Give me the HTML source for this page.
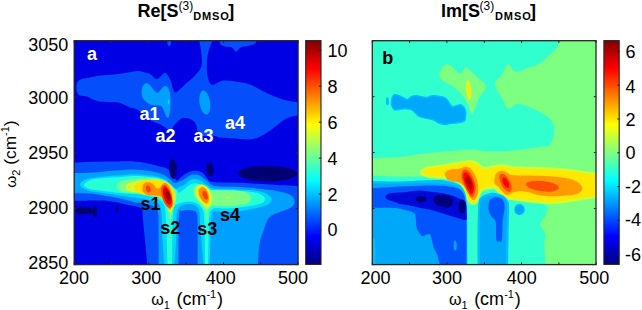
<!DOCTYPE html>
<html><head><meta charset="utf-8"><style>
html,body{margin:0;padding:0;background:#fff;width:642px;height:310px;overflow:hidden}
svg{display:block}
text{font-family:"Liberation Sans",sans-serif;fill:#000}
</style></head><body>
<svg width="642" height="310" viewBox="0 0 642 310">
<defs>
<clipPath id="ca"><rect x="74" y="40.5" width="224" height="224"/></clipPath>
<clipPath id="cb"><rect x="372" y="40.5" width="224" height="224"/></clipPath>
<linearGradient id="jet" x1="0" y1="1" x2="0" y2="0">
<stop offset="0" stop-color="#000080"/><stop offset="0.125" stop-color="#0000ff"/>
<stop offset="0.375" stop-color="#00ffff"/><stop offset="0.625" stop-color="#ffff00"/>
<stop offset="0.875" stop-color="#ff0000"/><stop offset="1" stop-color="#800000"/>
</linearGradient>
</defs>
<g clip-path="url(#ca)">
<rect x="70" y="36" width="232" height="232" fill="#0000e4"/>
<path d="M198.6,38.0C198.6,38.0 213.6,38.0 213.6,38.0C213.6,38.0 210.6,44.7 209.5,48.0C208.4,51.3 207.6,54.7 207.2,58.0C206.8,61.3 206.7,64.7 206.8,68.0C206.9,71.3 207.2,75.1 208.0,77.9C208.8,80.7 210.0,84.3 211.9,85.0C213.8,85.7 217.5,82.5 219.7,81.8C221.8,81.0 222.2,80.5 224.8,80.5C227.4,80.5 230.8,80.8 235.0,81.5C239.2,82.2 244.8,82.6 250.0,84.5C255.2,86.4 261.5,90.7 266.5,93.0C271.5,95.3 275.8,97.1 280.0,98.5C284.2,99.9 288.3,100.8 292.0,101.5C295.7,102.2 302.0,102.5 302.0,102.5C302.0,102.5 302.0,115.5 302.0,115.5C302.0,115.5 296.9,115.3 294.0,116.0C291.1,116.7 288.1,117.6 284.7,119.6C281.3,121.6 277.2,125.3 273.5,128.0C269.8,130.7 265.9,133.6 262.2,135.5C258.4,137.4 256.0,138.8 251.0,139.3C246.0,139.8 237.4,138.6 232.3,138.3C227.2,138.0 223.6,138.0 220.4,137.6C217.2,137.2 215.9,136.1 213.3,135.8C210.7,135.5 207.3,136.1 205.0,136.0C202.7,135.9 200.6,136.4 199.3,135.5C198.0,134.6 198.0,132.5 197.4,130.5C196.8,128.5 196.8,125.3 195.6,123.4C194.4,121.5 192.4,119.9 190.3,119.0C188.2,118.1 185.0,117.9 183.2,118.0C181.4,118.1 181.1,118.6 179.6,119.8C178.1,121.0 175.8,123.3 174.3,125.1C172.8,126.9 172.4,130.2 170.8,130.5C169.2,130.8 166.8,128.2 165.0,127.2C163.2,126.2 162.1,125.2 160.1,124.3C158.1,123.3 155.1,122.5 153.0,121.5C150.9,120.5 149.7,119.6 147.7,118.0C145.7,116.4 143.1,113.5 141.0,112.0C138.9,110.5 137.1,109.5 135.3,108.8C133.5,108.0 131.6,108.0 130.0,107.5C128.4,107.0 127.9,106.3 126.0,105.5C124.1,104.7 121.5,103.0 118.8,102.4C116.1,101.9 113.1,102.4 110.0,102.2C106.9,102.0 103.0,102.0 100.0,101.5C97.0,101.0 94.2,99.8 92.0,99.0C89.8,98.2 89.0,97.1 87.0,96.5C85.0,95.9 81.7,96.2 80.0,95.5C78.3,94.8 77.6,93.6 77.0,92.0C76.4,90.4 76.3,87.8 76.5,86.0C76.7,84.2 77.1,82.7 78.0,81.5C78.9,80.3 80.0,79.7 82.0,79.0C84.0,78.3 87.0,78.1 90.0,77.5C93.0,76.9 95.8,76.0 100.0,75.5C104.2,75.0 110.3,75.0 115.0,74.5C119.7,74.0 124.2,73.1 128.0,72.5C131.8,71.9 135.2,71.0 138.0,71.0C140.8,71.0 143.0,72.0 145.0,72.5C147.0,73.0 148.1,72.9 150.0,74.0C151.9,75.1 154.7,78.9 156.5,79.2C158.3,79.5 159.5,77.1 161.0,76.0C162.5,74.9 163.9,72.0 165.5,72.8C167.1,73.5 169.1,77.3 170.6,80.5C172.1,83.7 173.0,90.6 174.5,92.1C176.0,93.6 178.0,90.8 179.7,89.5C181.4,88.2 182.7,86.3 184.8,84.4C187.0,82.5 190.0,80.5 192.6,77.9C195.2,75.3 198.8,71.6 200.3,68.9C201.8,66.2 201.7,65.2 201.8,62.0C201.9,58.9 201.5,54.0 201.0,50.0C200.5,46.0 198.6,38.0 198.6,38.0Z" fill="#054efc"/>
<path d="M219.3,38.0C219.3,38.0 257.3,38.0 257.3,38.0C257.3,38.0 256.6,42.2 255.0,43.5C253.4,44.8 250.3,45.4 248.0,46.0C245.7,46.6 243.0,46.3 241.0,47.3C239.0,48.2 237.5,51.7 236.0,51.7C234.5,51.7 233.8,48.4 232.0,47.5C230.2,46.6 226.9,47.1 225.0,46.5C223.1,45.9 221.4,45.4 220.5,44.0C219.6,42.6 219.3,38.0 219.3,38.0Z" fill="#054efc"/>
<ellipse cx="169.2" cy="42" rx="1.8" ry="4" fill="#054efc"/>
<path d="M70.0,162.7C70.0,162.7 83.3,162.2 90.0,162.0C96.7,161.8 103.7,161.6 110.0,161.5C116.3,161.4 123.0,161.1 128.0,161.2C133.0,161.3 136.2,161.5 140.0,162.0C143.8,162.5 147.3,163.2 150.6,164.0C153.9,164.8 157.4,165.8 160.0,166.5C162.6,167.2 164.2,167.1 166.0,168.0C167.8,168.9 169.5,170.3 171.0,172.0C172.5,173.7 174.0,176.6 175.0,178.0C176.0,179.4 175.5,181.0 177.0,180.5C178.5,180.0 181.5,176.4 184.0,174.8C186.5,173.2 189.2,171.5 191.8,170.9C194.4,170.3 197.5,171.0 199.5,171.5C201.5,172.0 202.8,172.9 204.0,174.0C205.2,175.1 205.5,176.7 207.0,178.0C208.5,179.3 207.5,181.2 213.0,182.0C218.5,182.8 230.5,182.4 240.0,182.8C249.5,183.2 259.7,183.9 270.0,184.5C280.3,185.1 302.0,186.5 302.0,186.5C302.0,186.5 302.0,268.0 302.0,268.0C302.0,268.0 147.5,268.0 147.5,268.0C147.5,268.0 145.8,248.0 145.0,240.0C144.2,232.0 143.5,225.0 143.0,220.0C142.5,215.0 143.0,212.2 142.0,210.0C141.0,207.8 139.3,207.6 137.0,206.8C134.7,206.0 131.7,205.8 128.0,205.0C124.3,204.2 119.7,202.8 115.0,202.0C110.3,201.2 107.5,200.7 100.0,200.5C92.5,200.3 70.0,201.0 70.0,201.0C70.0,201.0 70.0,162.7 70.0,162.7Z" fill="#054efc"/>
<path d="M143.0,98.5C141.9,96.8 141.9,94.8 141.7,93.0C141.5,91.2 141.6,89.4 142.0,88.0C142.4,86.6 143.2,85.3 144.0,84.5C144.8,83.7 146.0,83.1 147.0,83.3C148.0,83.5 149.0,84.3 150.2,85.5C151.4,86.7 153.2,89.3 154.4,90.5C155.6,91.7 156.2,93.0 157.3,92.9C158.4,92.8 159.7,90.8 160.8,89.8C161.9,88.8 162.8,87.1 163.8,86.6C164.8,86.0 165.9,85.9 166.8,86.5C167.7,87.1 168.4,88.4 169.0,90.0C169.6,91.6 170.2,93.3 170.4,96.0C170.6,98.7 170.5,103.1 170.4,106.0C170.3,108.9 170.0,111.5 169.6,113.5C169.2,115.5 168.6,117.3 168.0,117.8C167.4,118.3 166.9,117.5 166.3,116.5C165.7,115.5 165.1,113.5 164.4,112.0C163.7,110.5 163.1,108.4 162.2,107.3C161.3,106.2 160.5,105.9 159.0,105.6C157.5,105.2 154.8,105.5 153.0,105.2C151.2,104.9 150.2,104.6 148.5,103.5C146.8,102.4 144.1,100.2 143.0,98.5Z" fill="#00a0ff"/>
<ellipse cx="204.8" cy="102.5" rx="5.3" ry="12.2" fill="#00a0ff" transform="rotate(-8 204.8 102.5)"/>
<path d="M70.0,173.0C70.0,173.0 85.0,172.9 90.0,172.7C95.0,172.5 95.2,172.4 100.0,172.0C104.8,171.6 113.3,170.7 119.0,170.3C124.7,169.9 128.8,169.4 134.0,169.5C139.2,169.6 145.7,170.3 150.0,171.0C154.3,171.7 157.3,172.7 160.0,173.5C162.7,174.3 164.2,174.9 166.0,176.0C167.8,177.1 169.7,178.8 171.0,180.0C172.3,181.2 172.8,182.7 174.0,183.0C175.2,183.3 176.3,182.6 178.0,182.0C179.7,181.4 181.7,180.5 184.0,179.3C186.3,178.1 189.2,175.5 191.8,174.8C194.4,174.2 197.1,174.5 199.5,175.4C201.9,176.3 203.4,178.2 206.0,180.0C208.6,181.8 209.3,184.8 215.0,186.0C220.7,187.2 232.2,186.5 240.0,187.0C247.8,187.5 255.0,188.2 262.0,189.0C269.0,189.8 277.0,190.8 282.0,192.0C287.0,193.2 289.9,194.2 292.0,196.0C294.1,197.8 294.7,201.0 294.4,203.0C294.1,205.0 292.4,206.5 290.0,208.0C287.6,209.5 283.5,210.4 280.0,212.0C276.5,213.6 272.0,214.4 269.2,217.6C266.4,220.8 265.0,226.5 263.4,231.0C261.8,235.5 260.5,238.5 259.5,244.7C258.5,250.9 257.6,268.0 257.6,268.0C257.6,268.0 197.6,268.0 197.6,268.0C197.6,268.0 197.7,234.0 197.6,225.0C197.5,216.0 197.6,216.4 197.0,214.0C196.4,211.6 195.5,211.5 194.0,210.8C192.5,210.1 190.0,210.0 188.0,210.0C186.0,210.0 183.5,210.2 182.0,211.0C180.5,211.8 179.6,205.5 179.0,215.0C178.4,224.5 178.5,268.0 178.5,268.0C178.5,268.0 158.8,268.0 158.8,268.0C158.8,268.0 158.7,248.8 158.6,240.0C158.5,231.2 158.7,220.3 158.3,215.0C157.9,209.7 157.4,209.7 156.0,208.0C154.6,206.3 152.7,205.8 150.0,205.0C147.3,204.2 142.5,203.4 140.0,203.0C137.5,202.6 138.3,203.1 135.0,202.3C131.7,201.6 125.8,199.7 120.0,198.5C114.2,197.3 105.0,195.8 100.0,195.0C95.0,194.2 94.0,193.9 90.0,193.6C86.0,193.3 79.3,193.4 76.0,193.3C72.7,193.2 70.0,193.3 70.0,193.3C70.0,193.3 70.0,173.0 70.0,173.0Z" fill="#00a0ff"/>
<ellipse cx="168.7" cy="102" rx="0.9" ry="2.8" fill="#00d7ff"/>
<path d="M80.0,183.5C80.5,182.2 83.3,180.7 85.0,179.8C86.7,178.9 87.5,178.8 90.0,178.3C92.5,177.8 95.5,177.5 100.0,177.0C104.5,176.5 111.3,175.9 117.0,175.5C122.7,175.1 128.5,174.4 134.0,174.4C139.5,174.4 146.0,175.1 150.0,175.5C154.0,175.9 155.7,176.4 158.0,177.0C160.3,177.6 162.0,178.0 164.0,179.0C166.0,180.0 168.3,181.6 170.0,183.0C171.7,184.4 172.9,186.5 174.0,187.5C175.1,188.5 175.3,189.2 176.3,189.0C177.3,188.8 178.7,187.2 180.0,186.5C181.3,185.8 182.0,186.2 184.0,185.0C186.0,183.8 189.2,180.1 191.8,179.3C194.4,178.5 197.1,179.1 199.5,180.0C201.9,180.9 203.9,183.2 206.0,184.5C208.1,185.8 209.7,187.2 212.0,188.0C214.3,188.8 215.3,188.8 220.0,189.0C224.7,189.2 234.0,189.2 240.0,189.5C246.0,189.8 251.7,190.1 256.0,190.8C260.3,191.5 263.4,192.2 266.0,193.5C268.6,194.8 270.9,196.8 271.5,198.5C272.1,200.2 271.1,202.2 269.5,203.5C267.9,204.8 264.4,205.7 262.0,206.5C259.6,207.3 258.7,207.8 255.0,208.5C251.3,209.2 245.0,210.4 240.0,211.0C235.0,211.6 229.2,211.9 225.0,212.0C220.8,212.1 217.2,211.2 215.0,211.5C212.8,211.8 212.7,211.8 212.0,214.0C211.3,216.2 211.4,216.0 211.0,225.0C210.6,234.0 209.5,268.0 209.5,268.0C209.5,268.0 204.0,268.0 204.0,268.0C204.0,268.0 201.2,239.3 200.5,230.0C199.8,220.7 200.2,216.0 199.5,212.0C198.8,208.0 197.6,207.3 196.0,206.0C194.4,204.7 192.0,204.2 190.0,204.0C188.0,203.8 185.8,203.9 184.0,204.5C182.2,205.1 180.2,205.8 179.0,207.5C177.8,209.2 176.9,210.4 176.5,215.0C176.1,219.6 176.9,226.2 176.5,235.0C176.1,243.8 174.0,268.0 174.0,268.0C174.0,268.0 164.5,268.0 164.5,268.0C164.5,268.0 162.8,243.8 162.3,235.0C161.8,226.2 162.0,219.8 161.6,215.0C161.2,210.2 160.8,208.1 160.0,206.0C159.2,203.9 158.7,203.5 157.0,202.5C155.3,201.5 153.7,200.8 150.0,200.0C146.3,199.2 140.0,198.4 135.0,197.7C130.0,196.9 125.8,196.4 120.0,195.5C114.2,194.6 105.0,193.2 100.0,192.5C95.0,191.8 93.0,191.8 90.0,191.0C87.0,190.2 83.7,188.8 82.0,187.5C80.3,186.2 79.5,184.8 80.0,183.5Z" fill="#00d7ff"/>
<path d="M84.0,184.5C84.8,183.3 87.3,181.0 90.0,180.0C92.7,179.0 95.5,178.9 100.0,178.5C104.5,178.1 111.3,177.7 117.0,177.3C122.7,176.9 128.5,176.1 134.0,176.0C139.5,175.9 145.7,176.6 150.0,177.0C154.3,177.4 157.3,177.8 160.0,178.5C162.7,179.2 164.0,179.8 166.0,181.0C168.0,182.2 170.2,184.5 172.0,186.0C173.8,187.5 175.8,188.9 177.0,190.0C178.2,191.1 177.6,193.1 179.0,192.8C180.4,192.5 183.3,189.8 185.4,188.3C187.5,186.8 189.7,184.6 191.8,183.8C193.9,183.1 195.8,182.9 198.0,183.8C200.2,184.7 202.7,187.9 204.7,189.0C206.7,190.1 207.4,190.2 210.0,190.5C212.6,190.8 215.0,190.4 220.0,190.5C225.0,190.6 234.3,190.7 240.0,191.0C245.7,191.3 250.4,191.7 254.0,192.3C257.6,192.9 259.7,193.7 261.5,194.8C263.3,195.9 264.9,197.6 265.0,199.0C265.1,200.4 264.2,201.9 262.0,203.0C259.8,204.1 255.7,204.8 252.0,205.5C248.3,206.2 244.5,207.0 240.0,207.5C235.5,208.0 229.0,208.4 225.0,208.5C221.0,208.6 218.2,207.8 216.0,208.0C213.8,208.2 213.1,208.3 212.0,209.5C210.9,210.7 210.1,209.9 209.5,215.0C208.9,220.1 208.8,231.2 208.5,240.0C208.2,248.8 208.0,268.0 208.0,268.0C208.0,268.0 205.0,268.0 205.0,268.0C205.0,268.0 205.0,248.8 204.8,240.0C204.6,231.2 204.6,220.5 204.0,215.0C203.4,209.5 202.3,209.0 201.0,207.0C199.7,205.0 197.8,203.9 196.0,203.0C194.2,202.1 192.0,201.7 190.0,201.5C188.0,201.3 186.0,201.6 184.0,202.0C182.0,202.4 179.7,203.0 178.0,204.0C176.3,205.0 174.9,204.5 174.0,208.0C173.1,211.5 172.9,215.0 172.6,225.0C172.3,235.0 172.0,268.0 172.0,268.0C172.0,268.0 167.6,268.0 167.6,268.0C167.6,268.0 166.9,243.8 166.6,235.0C166.3,226.2 165.9,219.8 165.6,215.0C165.2,210.2 165.3,208.3 164.5,206.0C163.7,203.7 162.6,202.3 161.0,201.0C159.4,199.7 157.2,198.8 155.0,198.0C152.8,197.2 150.5,196.6 148.0,196.0C145.5,195.4 144.7,195.0 140.0,194.5C135.3,194.0 126.7,193.7 120.0,193.0C113.3,192.3 105.0,191.2 100.0,190.5C95.0,189.8 92.4,189.6 90.0,189.0C87.6,188.4 86.5,187.8 85.5,187.0C84.5,186.2 83.2,185.7 84.0,184.5Z" fill="#29ffd6"/>
<path d="M117.0,184.5C117.8,183.5 119.8,181.8 122.0,181.0C124.2,180.2 127.0,179.8 130.0,179.4C133.0,179.0 136.7,178.7 140.0,178.5C143.3,178.3 147.0,178.0 150.0,178.0C153.0,178.0 155.7,178.0 158.0,178.5C160.3,179.0 162.0,179.9 164.0,181.0C166.0,182.1 168.3,183.7 170.0,185.0C171.7,186.3 172.9,187.7 174.0,189.0C175.1,190.3 176.2,191.2 176.5,193.0C176.8,194.8 176.4,197.8 176.0,200.0C175.6,202.2 174.8,203.7 174.0,206.0C173.2,208.3 172.2,211.3 171.5,214.0C170.8,216.7 170.5,222.0 170.0,222.0C169.5,222.0 169.1,216.8 168.5,214.0C167.9,211.2 167.6,207.5 166.5,205.0C165.4,202.5 163.9,200.6 162.0,199.0C160.1,197.4 157.8,196.4 155.0,195.5C152.2,194.6 148.3,193.9 145.0,193.5C141.7,193.1 138.3,193.2 135.0,193.0C131.7,192.8 127.7,193.0 125.0,192.5C122.3,192.0 120.3,190.9 119.0,190.0C117.7,189.1 117.3,187.9 117.0,187.0C116.7,186.1 116.2,185.5 117.0,184.5Z" fill="#7bff84"/>
<path d="M193.5,189.0C194.0,187.7 195.2,186.1 196.5,185.3C197.8,184.5 199.4,184.1 201.0,184.3C202.6,184.5 204.5,185.6 206.0,186.5C207.5,187.4 208.5,188.9 210.0,189.5C211.5,190.1 211.5,190.2 215.0,190.3C218.5,190.4 226.0,190.0 231.0,190.3C236.0,190.6 241.7,190.9 245.0,192.0C248.3,193.1 250.5,195.2 251.0,197.0C251.5,198.8 250.7,201.5 248.0,203.0C245.3,204.5 239.7,205.3 235.0,205.8C230.3,206.3 223.7,206.1 220.0,206.0C216.3,205.9 214.7,205.3 213.0,205.5C211.3,205.7 210.9,205.9 210.0,207.0C209.1,208.1 208.3,209.5 207.8,212.0C207.3,214.5 207.2,222.0 206.8,222.0C206.4,222.0 206.1,214.5 205.5,212.0C204.9,209.5 204.2,208.7 203.0,207.0C201.8,205.3 199.8,203.7 198.5,202.0C197.2,200.3 195.9,198.5 195.0,197.0C194.1,195.5 193.6,194.3 193.3,193.0C193.1,191.7 193.0,190.3 193.5,189.0Z" fill="#7bff84"/>
<path d="M125.8,187.0C126.0,185.9 126.5,184.4 128.0,183.5C129.5,182.6 132.2,181.9 135.0,181.3C137.8,180.7 141.7,180.3 145.0,180.0C148.3,179.7 152.2,179.4 155.0,179.5C157.8,179.6 160.0,180.0 162.0,180.5C164.0,181.0 165.5,181.6 167.0,182.5C168.5,183.4 169.8,184.6 171.0,186.0C172.2,187.4 173.3,189.2 174.0,191.0C174.7,192.8 174.9,195.0 175.0,197.0C175.1,199.0 174.9,201.2 174.5,203.0C174.1,204.8 173.2,206.3 172.5,208.0C171.8,209.7 171.2,213.0 170.5,213.0C169.8,213.0 169.2,210.0 168.5,208.0C167.8,206.0 167.2,202.8 166.0,201.0C164.8,199.2 163.3,198.1 161.0,197.0C158.7,195.9 155.5,195.2 152.0,194.5C148.5,193.8 143.7,193.5 140.0,193.0C136.3,192.5 132.2,192.0 130.0,191.5C127.8,191.0 127.2,190.8 126.5,190.0C125.8,189.2 125.5,188.1 125.8,187.0Z" fill="#ccff33"/>
<path d="M195.5,189.0C196.0,187.9 197.2,186.2 198.5,185.5C199.8,184.8 201.5,184.5 203.0,184.8C204.5,185.1 206.2,186.2 207.5,187.5C208.8,188.8 209.7,190.8 210.5,192.5C211.3,194.2 212.3,195.8 212.5,197.5C212.7,199.2 212.1,201.4 211.5,203.0C210.9,204.6 209.8,206.0 209.0,207.0C208.2,208.0 207.3,209.2 206.5,209.0C205.7,208.8 205.1,206.8 204.0,205.5C202.9,204.2 201.2,203.1 200.0,201.5C198.8,199.9 197.3,197.6 196.5,196.0C195.7,194.4 195.5,193.2 195.3,192.0C195.1,190.8 195.0,190.1 195.5,189.0Z" fill="#ccff33"/>
<ellipse cx="228" cy="197.8" rx="1.6" ry="1.3" fill="#ccff33"/>
<path d="M134.0,187.0C134.2,186.1 135.0,184.9 136.0,184.0C137.0,183.1 138.0,182.1 140.0,181.5C142.0,180.9 145.5,180.5 148.0,180.3C150.5,180.1 152.7,180.4 155.0,180.5C157.3,180.6 160.0,180.6 162.0,181.0C164.0,181.4 165.5,182.1 167.0,183.0C168.5,183.9 169.9,185.2 171.0,186.5C172.1,187.8 172.9,189.1 173.5,191.0C174.1,192.9 174.4,195.8 174.5,198.0C174.6,200.2 174.3,202.2 174.0,204.0C173.7,205.8 173.1,207.8 172.5,209.0C171.9,210.2 171.2,211.3 170.5,211.0C169.8,210.7 169.3,208.7 168.5,207.0C167.7,205.3 166.8,202.6 165.5,201.0C164.2,199.4 163.2,198.4 161.0,197.5C158.8,196.6 155.0,196.0 152.0,195.5C149.0,195.0 145.5,195.1 143.0,194.5C140.5,193.9 138.4,192.8 137.0,192.0C135.6,191.2 135.0,190.3 134.5,189.5C134.0,188.7 133.8,187.9 134.0,187.0Z" fill="#ffe000"/>
<ellipse cx="129.4" cy="187.1" rx="1.5" ry="1.5" fill="#ffe000"/>
<path d="M197.0,190.0C197.2,188.6 198.5,187.6 199.5,187.0C200.5,186.4 201.8,186.1 203.0,186.3C204.2,186.6 205.5,187.4 206.5,188.5C207.5,189.6 208.4,191.4 209.0,193.0C209.6,194.6 209.9,196.4 210.0,198.0C210.1,199.6 209.9,201.3 209.5,202.5C209.1,203.7 208.3,204.8 207.5,205.0C206.7,205.2 205.6,204.3 204.5,203.5C203.4,202.7 202.1,201.3 201.0,200.0C199.9,198.7 198.7,197.2 198.0,195.5C197.3,193.8 196.8,191.4 197.0,190.0Z" fill="#ffe000"/>
<path d="M142.4,188.0C142.5,186.8 142.8,184.9 143.5,184.0C144.2,183.1 145.3,182.6 146.5,182.3C147.7,182.1 149.3,182.1 150.5,182.5C151.7,182.9 152.5,183.6 153.5,184.5C154.5,185.4 155.4,187.1 156.3,187.8C157.2,188.5 158.0,188.9 158.8,188.6C159.6,188.3 160.5,186.7 161.3,185.8C162.1,184.9 162.6,183.7 163.5,183.3C164.4,182.9 165.5,182.9 166.5,183.5C167.5,184.1 168.7,185.4 169.5,187.0C170.3,188.6 171.0,190.8 171.5,193.0C172.0,195.2 172.2,197.8 172.3,200.0C172.4,202.2 172.2,204.4 171.8,206.0C171.4,207.6 170.7,209.3 170.0,209.5C169.3,209.7 168.3,208.4 167.5,207.0C166.7,205.6 166.0,202.7 165.0,201.0C164.0,199.3 163.0,197.9 161.5,197.0C160.0,196.1 157.9,195.8 156.0,195.5C154.1,195.2 151.8,195.8 150.0,195.5C148.2,195.2 146.7,194.7 145.5,194.0C144.3,193.3 143.3,192.5 142.8,191.5C142.3,190.5 142.3,189.2 142.4,188.0Z" fill="#ff8f00"/>
<path d="M198.7,190.0C199.1,188.9 200.1,187.9 201.0,187.5C201.9,187.1 203.0,187.0 204.0,187.5C205.0,188.0 206.2,189.1 207.0,190.5C207.8,191.9 208.4,194.2 208.7,196.0C208.9,197.8 208.9,200.2 208.5,201.5C208.1,202.8 207.3,203.4 206.5,203.5C205.7,203.6 204.5,202.9 203.5,202.0C202.5,201.1 201.3,199.3 200.5,198.0C199.7,196.7 199.1,195.3 198.8,194.0C198.5,192.7 198.3,191.1 198.7,190.0Z" fill="#ff8f00"/>
<ellipse cx="148.3" cy="189" rx="2.3" ry="3.5" fill="#ff3e00" transform="rotate(-15 148.3 189)"/>
<ellipse cx="166.9" cy="196.5" rx="4.8" ry="11.8" fill="#ff3e00" transform="rotate(-17 166.9 196.5)"/>
<ellipse cx="205.2" cy="195.3" rx="2.3" ry="4.5" fill="#ff3e00" transform="rotate(-20 205.2 195.3)"/>
<ellipse cx="167.3" cy="196" rx="3.6" ry="9.2" fill="#eb0000" transform="rotate(-17 167.3 196)"/>
<ellipse cx="167.9" cy="195.5" rx="2.2" ry="5.6" fill="#9a0000" transform="rotate(-17 167.9 195.5)"/>
<ellipse cx="173.1" cy="169" rx="3.9" ry="10" fill="#000073" transform="rotate(-3 173.1 169)"/>
<ellipse cx="210" cy="169.5" rx="3.6" ry="7.3" fill="#000073" transform="rotate(-5 210 169.5)"/>
<ellipse cx="267.6" cy="173.6" rx="29.4" ry="7.9" fill="#000073" transform="rotate(0.5 267.6 173.6)"/>
<ellipse cx="80" cy="210.6" rx="4.2" ry="4.2" fill="#000073"/>
<ellipse cx="85.3" cy="210.4" rx="3.6" ry="3.7" fill="#000073"/>
<ellipse cx="89.6" cy="210.8" rx="3" ry="3.4" fill="#000073"/>
<ellipse cx="94.9" cy="211.5" rx="2.3" ry="6.2" fill="#000073"/>
<ellipse cx="117.3" cy="208.3" rx="1.1" ry="3.6" fill="#000073"/>
</g>
<g clip-path="url(#cb)">
<rect x="368" y="36" width="236" height="234" fill="#31ffce"/>
<path d="M391.5,101.2C391.7,99.9 392.0,98.1 392.5,97.0C393.0,95.9 393.2,94.9 394.3,94.7C395.4,94.5 397.6,95.1 399.0,95.6C400.4,96.1 401.6,96.9 403.0,97.5C404.4,98.1 406.1,99.5 407.4,99.4C408.7,99.3 409.7,97.6 411.0,97.0C412.3,96.4 413.5,95.7 415.0,95.6C416.5,95.5 418.1,96.2 420.0,96.5C421.9,96.8 424.5,97.5 426.2,97.5C427.9,97.5 428.8,96.6 430.0,96.3C431.2,96.0 431.9,95.6 433.6,95.6C435.3,95.6 438.1,96.2 440.0,96.5C441.9,96.8 443.6,96.8 444.9,97.5C446.2,98.2 446.8,99.5 448.0,101.0C449.2,102.5 450.9,106.0 452.4,106.8C453.9,107.5 455.4,105.8 457.0,105.5C458.6,105.2 460.3,104.2 461.7,105.0C463.1,105.8 464.9,108.8 465.5,110.6C466.1,112.4 465.7,114.3 465.5,116.0C465.3,117.7 465.8,119.8 464.5,120.9C463.2,122.0 460.6,122.3 458.0,122.8C455.4,123.3 450.8,123.4 448.6,123.7C446.4,124.0 446.7,124.8 444.9,124.6C443.1,124.4 439.9,123.3 438.0,122.5C436.1,121.7 435.8,120.8 433.6,120.0C431.4,119.2 427.5,118.6 425.0,118.0C422.5,117.4 420.7,117.4 418.7,116.2C416.7,115.0 414.8,111.8 413.0,110.6C411.2,109.4 409.6,109.3 408.0,109.0C406.4,108.7 405.4,108.6 403.7,108.7C402.0,108.8 399.6,109.3 398.0,109.5C396.4,109.7 395.4,110.5 394.3,109.7C393.2,109.0 392.0,106.4 391.5,105.0C391.0,103.6 391.3,102.5 391.5,101.2Z" fill="#00a8fa" stroke="#00c0ff" stroke-width="1.4"/>
<ellipse cx="387.4" cy="101.2" rx="1.5" ry="4" fill="#00c0ff"/>
<path d="M439.3,73.6C439.5,71.7 440.8,69.6 442.0,68.0C443.2,66.4 445.0,64.4 446.7,64.2C448.4,64.0 450.2,65.4 452.4,67.0C454.6,68.6 457.7,73.6 459.9,73.6C462.1,73.6 463.9,67.6 465.5,67.0C467.1,66.4 467.4,68.3 469.2,69.8C470.9,71.3 473.6,73.9 476.0,76.0C478.4,78.1 481.9,80.7 483.6,82.5C485.3,84.3 486.6,84.6 486.0,87.0C485.4,89.4 481.8,93.5 480.0,97.0C478.2,100.5 476.4,105.1 475.0,108.0C473.6,110.9 472.7,114.8 471.5,114.3C470.3,113.8 469.6,108.2 468.0,105.0C466.4,101.8 464.2,97.8 462.0,95.0C459.8,92.2 457.5,90.0 455.0,88.0C452.5,86.0 449.3,84.5 447.0,83.0C444.7,81.5 442.3,80.8 441.0,79.2C439.7,77.6 439.1,75.5 439.3,73.6Z" fill="#7dff82"/>
<path d="M559.8,36.0C559.8,36.0 604.0,36.0 604.0,36.0C604.0,36.0 604.0,270.0 604.0,270.0C604.0,270.0 546.2,270.0 546.2,270.0C546.2,270.0 544.5,250.9 544.4,244.9C544.2,238.9 546.0,237.7 545.3,234.2C544.6,230.7 540.1,227.2 540.2,224.0C540.3,220.8 544.9,217.9 545.8,214.7C546.7,211.5 548.4,206.9 545.8,205.0C543.2,203.1 535.6,204.1 530.0,203.3C524.4,202.6 516.2,201.3 512.0,200.5C507.8,199.7 507.0,199.7 505.0,198.5C503.0,197.3 501.7,194.9 500.0,193.5C498.3,192.1 497.0,190.3 495.0,189.8C493.0,189.3 490.2,190.1 488.0,190.5C485.8,190.9 483.7,191.4 482.0,192.5C480.3,193.6 479.3,195.2 478.0,197.0C476.7,198.8 475.3,202.7 474.0,203.0C472.7,203.3 471.2,200.8 470.0,199.0C468.8,197.2 468.2,194.3 467.0,192.0C465.8,189.7 464.5,186.9 463.0,185.0C461.5,183.1 460.2,181.7 458.0,180.5C455.8,179.3 453.0,178.6 450.0,178.0C447.0,177.4 445.0,177.2 440.0,177.0C435.0,176.8 426.7,176.5 420.0,176.5C413.3,176.5 406.7,176.9 400.0,176.8C393.3,176.7 385.7,176.1 380.0,175.8C374.3,175.6 366.0,175.3 366.0,175.3C366.0,175.3 366.0,158.0 366.0,158.0C366.0,158.0 372.0,158.0 372.0,158.0C372.0,158.0 392.0,157.7 400.0,157.0C408.0,156.3 413.3,154.8 420.0,154.0C426.7,153.2 431.7,152.7 440.0,152.0C448.3,151.3 462.7,149.8 470.0,149.6C477.3,149.4 478.6,150.7 484.0,151.0C489.4,151.3 496.5,151.7 502.7,151.5C508.9,151.3 515.1,150.4 521.4,149.6C527.6,148.8 535.8,147.4 540.2,146.8C544.6,146.2 545.7,146.7 547.6,146.0C549.5,145.3 550.3,144.6 551.4,142.4C552.5,140.2 554.1,136.4 554.2,133.0C554.4,129.6 554.0,124.9 552.3,121.8C550.6,118.7 547.5,116.6 543.9,114.3C540.3,112.0 535.2,109.5 530.8,107.8C526.4,106.1 521.5,103.8 517.7,104.0C514.0,104.2 510.8,109.5 508.3,108.7C505.8,107.9 504.6,102.5 502.7,99.4C500.8,96.3 498.4,92.7 497.1,90.0C495.9,87.3 494.3,85.7 495.2,83.0C496.1,80.3 500.5,76.7 502.7,73.6C504.9,70.5 506.1,64.5 508.3,64.2C510.5,63.9 512.7,71.1 515.8,71.7C518.9,72.3 523.9,69.0 527.0,68.0C530.1,67.0 531.7,67.2 534.5,66.0C537.3,64.8 541.4,62.4 543.9,60.5C546.4,58.6 547.3,57.0 549.5,54.8C551.7,52.6 555.3,50.5 557.0,47.4C558.7,44.3 559.8,36.0 559.8,36.0Z" fill="#7dff82"/>
<ellipse cx="468.7" cy="90" rx="2.6" ry="10" fill="#caff35" transform="rotate(-6 468.7 90)"/>
<ellipse cx="468.7" cy="90" rx="1.8" ry="8.5" fill="#ffe800" transform="rotate(-6 468.7 90)"/>
<path d="M422.4,172.0C422.7,171.2 424.7,170.1 426.0,169.5C427.3,168.9 427.7,168.7 430.0,168.3C432.3,167.9 436.7,167.5 440.0,167.0C443.3,166.5 447.0,166.0 450.0,165.5C453.0,165.0 455.5,164.5 458.0,164.0C460.5,163.5 462.8,162.9 465.0,162.7C467.2,162.4 469.2,162.3 471.0,162.5C472.8,162.7 474.3,163.1 476.0,164.0C477.7,164.9 479.3,167.1 481.0,168.0C482.7,168.9 483.9,169.6 486.0,169.5C488.1,169.4 490.6,167.9 493.4,167.4C496.2,166.9 499.6,166.3 502.7,166.5C505.8,166.7 508.3,167.9 512.0,168.3C515.7,168.7 520.3,168.8 525.0,169.0C529.7,169.2 535.2,169.1 540.2,169.3C545.2,169.5 550.3,169.7 555.0,170.0C559.7,170.3 564.0,170.7 568.2,171.1C572.4,171.5 576.6,172.0 580.0,172.5C583.4,173.0 584.8,173.6 588.8,174.0C592.8,174.4 604.0,175.0 604.0,175.0C604.0,175.0 604.0,194.5 604.0,194.5C604.0,194.5 591.0,196.6 585.0,197.5C579.0,198.4 573.2,199.5 568.2,200.2C563.2,200.9 558.9,201.3 555.0,201.5C551.1,201.7 549.2,201.8 545.0,201.5C540.8,201.2 534.5,200.5 530.0,200.0C525.5,199.5 521.3,198.9 518.0,198.5C514.7,198.1 512.2,197.9 510.0,197.5C507.8,197.1 506.7,197.3 505.0,196.3C503.3,195.3 501.7,193.2 500.0,191.5C498.3,189.8 496.7,187.1 495.0,186.3C493.3,185.5 491.7,186.3 490.0,186.5C488.3,186.7 486.5,186.9 485.0,187.3C483.5,187.7 482.2,187.7 481.0,189.0C479.8,190.3 479.0,192.8 478.0,195.0C477.0,197.2 476.2,200.9 475.0,202.0C473.8,203.1 472.2,202.2 471.0,201.5C469.8,200.8 468.8,199.6 468.0,198.0C467.2,196.4 466.8,194.2 466.0,192.0C465.2,189.8 464.3,186.9 463.0,185.0C461.7,183.1 460.2,181.8 458.0,180.5C455.8,179.2 453.0,178.2 450.0,177.5C447.0,176.8 443.3,176.8 440.0,176.5C436.7,176.2 432.7,176.2 430.0,175.8C427.3,175.4 425.3,174.6 424.0,174.0C422.7,173.4 422.1,172.8 422.4,172.0Z" fill="#caff35" stroke="#caff35" stroke-width="4.6" stroke-linejoin="round"/>
<path d="M422.4,172.0C422.7,171.2 424.7,170.1 426.0,169.5C427.3,168.9 427.7,168.7 430.0,168.3C432.3,167.9 436.7,167.5 440.0,167.0C443.3,166.5 447.0,166.0 450.0,165.5C453.0,165.0 455.5,164.5 458.0,164.0C460.5,163.5 462.8,162.9 465.0,162.7C467.2,162.4 469.2,162.3 471.0,162.5C472.8,162.7 474.3,163.1 476.0,164.0C477.7,164.9 479.3,167.1 481.0,168.0C482.7,168.9 483.9,169.6 486.0,169.5C488.1,169.4 490.6,167.9 493.4,167.4C496.2,166.9 499.6,166.3 502.7,166.5C505.8,166.7 508.3,167.9 512.0,168.3C515.7,168.7 520.3,168.8 525.0,169.0C529.7,169.2 535.2,169.1 540.2,169.3C545.2,169.5 550.3,169.7 555.0,170.0C559.7,170.3 564.0,170.7 568.2,171.1C572.4,171.5 576.6,172.0 580.0,172.5C583.4,173.0 584.8,173.6 588.8,174.0C592.8,174.4 604.0,175.0 604.0,175.0C604.0,175.0 604.0,194.5 604.0,194.5C604.0,194.5 591.0,196.6 585.0,197.5C579.0,198.4 573.2,199.5 568.2,200.2C563.2,200.9 558.9,201.3 555.0,201.5C551.1,201.7 549.2,201.8 545.0,201.5C540.8,201.2 534.5,200.5 530.0,200.0C525.5,199.5 521.3,198.9 518.0,198.5C514.7,198.1 512.2,197.9 510.0,197.5C507.8,197.1 506.7,197.3 505.0,196.3C503.3,195.3 501.7,193.2 500.0,191.5C498.3,189.8 496.7,187.1 495.0,186.3C493.3,185.5 491.7,186.3 490.0,186.5C488.3,186.7 486.5,186.9 485.0,187.3C483.5,187.7 482.2,187.7 481.0,189.0C479.8,190.3 479.0,192.8 478.0,195.0C477.0,197.2 476.2,200.9 475.0,202.0C473.8,203.1 472.2,202.2 471.0,201.5C469.8,200.8 468.8,199.6 468.0,198.0C467.2,196.4 466.8,194.2 466.0,192.0C465.2,189.8 464.3,186.9 463.0,185.0C461.7,183.1 460.2,181.8 458.0,180.5C455.8,179.2 453.0,178.2 450.0,177.5C447.0,176.8 443.3,176.8 440.0,176.5C436.7,176.2 432.7,176.2 430.0,175.8C427.3,175.4 425.3,174.6 424.0,174.0C422.7,173.4 422.1,172.8 422.4,172.0Z" fill="#ffe800"/>
<path d="M444.9,174.5C444.8,173.1 446.0,171.8 447.0,171.0C448.0,170.2 449.5,169.8 451.0,169.5C452.5,169.2 454.3,169.5 456.0,169.3C457.7,169.1 459.7,168.9 461.0,168.5C462.3,168.1 462.9,167.2 464.0,167.0C465.1,166.8 466.2,166.5 467.5,167.0C468.8,167.5 470.6,168.3 472.0,170.0C473.4,171.7 475.0,174.5 476.0,177.0C477.0,179.5 477.7,182.5 478.0,185.0C478.3,187.5 478.2,189.9 478.0,192.0C477.8,194.1 477.2,196.2 476.5,197.5C475.8,198.8 474.8,199.8 474.0,200.0C473.2,200.2 472.4,200.0 471.5,199.0C470.6,198.0 469.7,196.0 468.5,194.0C467.3,192.0 466.1,188.9 464.5,187.0C462.9,185.1 460.9,183.4 459.0,182.5C457.1,181.6 454.9,182.1 453.0,181.6C451.1,181.1 448.9,180.7 447.5,179.5C446.1,178.3 445.0,175.9 444.9,174.5Z" fill="#ff9b00"/>
<path d="M494.3,181.0C494.4,179.5 494.7,176.6 495.5,175.0C496.3,173.4 497.6,172.0 499.0,171.3C500.4,170.6 502.4,170.6 504.0,171.0C505.6,171.4 507.2,172.8 508.5,173.5C509.8,174.2 509.8,174.7 512.0,175.0C514.2,175.3 517.3,175.4 522.0,175.5C526.7,175.6 534.0,175.6 540.0,175.8C546.0,176.1 552.7,176.4 558.0,177.0C563.3,177.6 568.3,178.3 572.0,179.5C575.7,180.7 578.3,182.4 580.0,184.0C581.7,185.6 582.6,187.4 582.3,189.0C582.0,190.6 580.4,192.4 578.0,193.5C575.6,194.6 572.3,195.1 568.0,195.5C563.7,195.9 556.7,196.2 552.0,196.2C547.3,196.2 543.7,196.1 540.0,195.5C536.3,194.9 533.3,193.2 530.0,192.5C526.7,191.8 522.8,191.2 520.0,191.2C517.2,191.2 515.2,191.9 513.0,192.5C510.8,193.1 508.8,195.2 507.0,195.0C505.2,194.8 503.5,192.4 502.0,191.0C500.5,189.6 499.2,187.7 498.0,186.5C496.8,185.3 495.6,184.9 495.0,184.0C494.4,183.1 494.2,182.5 494.3,181.0Z" fill="#ff9b00"/>
<path d="M463.0,170.5C463.8,169.6 464.8,169.2 466.0,169.5C467.2,169.8 468.8,170.9 470.0,172.5C471.2,174.1 472.6,176.8 473.5,179.0C474.4,181.2 475.2,183.8 475.5,186.0C475.8,188.2 475.5,190.1 475.0,192.0C474.5,193.9 473.4,197.0 472.5,197.5C471.6,198.0 470.6,196.4 469.5,195.0C468.4,193.6 467.2,191.3 466.0,189.0C464.8,186.7 463.2,183.3 462.5,181.0C461.8,178.7 461.4,176.8 461.5,175.0C461.6,173.2 462.2,171.4 463.0,170.5Z" fill="#ff4e00"/>
<ellipse cx="505.6" cy="182.8" rx="4.6" ry="10" fill="#ff4e00" transform="rotate(-28 505.6 182.8)"/>
<ellipse cx="542.5" cy="186.2" rx="16.5" ry="5.2" fill="#ff4e00" transform="rotate(6.5 542.5 186.2)"/>
<path d="M464.0,173.0C464.6,172.5 465.6,172.1 466.5,172.5C467.4,172.9 468.5,174.1 469.5,175.5C470.5,176.9 471.8,179.1 472.5,181.0C473.2,182.9 473.9,185.2 474.0,187.0C474.1,188.8 473.7,190.8 473.3,192.0C472.9,193.2 472.2,194.6 471.5,194.5C470.8,194.4 469.9,192.9 469.0,191.5C468.1,190.1 466.9,188.1 466.0,186.0C465.1,183.9 464.0,180.8 463.5,179.0C463.0,177.2 463.1,176.5 463.2,175.5C463.3,174.5 463.4,173.5 464.0,173.0Z" fill="#ff0200"/>
<ellipse cx="505.8" cy="182.8" rx="2.6" ry="5.6" fill="#ff0200" transform="rotate(-28 505.8 182.8)"/>
<path d="M466.0,177.0C466.4,176.3 467.2,176.0 468.0,176.5C468.8,177.0 469.8,178.6 470.5,180.0C471.2,181.4 471.8,183.4 472.0,185.0C472.2,186.6 472.1,188.8 471.8,189.5C471.5,190.2 470.9,190.2 470.2,189.5C469.5,188.8 468.3,186.5 467.5,185.0C466.7,183.5 465.8,181.8 465.5,180.5C465.2,179.2 465.6,177.7 466.0,177.0Z" fill="#b40000"/>
<path d="M366.0,180.8C366.0,180.8 376.6,181.2 380.0,181.3C383.4,181.4 396.0,181.6 400.0,181.5C404.0,181.4 416.0,180.7 420.0,180.5C424.0,180.3 436.8,179.8 440.0,180.0C443.2,180.2 450.0,181.5 452.0,182.0C454.0,182.5 458.8,184.2 460.0,185.0C461.2,185.8 463.4,188.9 464.0,190.0C464.6,191.1 465.7,194.5 466.0,196.0C466.3,197.5 466.9,202.6 467.0,205.0C467.1,207.4 467.2,213.5 467.3,220.0C467.4,226.5 467.5,270.0 467.5,270.0C467.5,270.0 366.0,270.0 366.0,270.0C366.0,270.0 366.0,180.8 366.0,180.8Z" fill="#00c0ff"/>
<path d="M477.5,270.0C477.5,270.0 477.4,236.2 477.5,230.0C477.6,223.8 477.9,211.0 478.0,208.0C478.1,205.0 478.7,201.1 479.0,200.0C479.3,198.9 480.4,197.6 481.0,197.0C481.6,196.4 484.1,194.9 485.0,194.5C485.9,194.1 489.0,193.4 490.0,193.2C491.0,193.0 494.0,192.8 495.0,192.9C496.0,193.0 499.1,193.7 500.0,194.0C500.9,194.3 503.3,195.5 504.0,196.0C504.7,196.5 506.5,198.2 507.0,199.0C507.5,199.8 508.8,202.4 509.0,204.0C509.2,205.6 509.1,211.4 509.0,215.0C508.9,218.6 508.6,234.5 508.5,240.0C508.4,245.5 508.0,270.0 508.0,270.0C508.0,270.0 477.5,270.0 477.5,270.0Z" fill="#00c0ff"/>
<path d="M366.0,183.5C366.0,183.5 376.6,183.7 380.0,183.7C383.4,183.7 396.0,183.6 400.0,183.5C404.0,183.4 416.0,183.0 420.0,183.0C424.0,183.0 436.8,183.3 440.0,183.5C443.2,183.7 450.1,184.6 452.0,185.0C453.9,185.4 457.9,187.3 459.0,188.0C460.1,188.7 462.4,191.1 463.0,192.0C463.6,192.9 464.7,195.7 465.0,197.0C465.3,198.3 466.2,202.7 466.3,205.0C466.4,207.3 466.5,213.5 466.5,220.0C466.5,226.5 466.5,270.0 466.5,270.0C466.5,270.0 366.0,270.0 366.0,270.0C366.0,270.0 366.0,183.5 366.0,183.5Z" fill="#00a8fa"/>
<path d="M479.8,270.0C479.8,270.0 479.8,236.2 479.8,230.0C479.8,223.8 479.9,210.9 480.0,208.0C480.1,205.1 480.6,202.1 481.0,201.0C481.4,199.9 483.1,198.0 484.0,197.5C484.9,197.0 488.9,196.0 490.0,195.8C491.1,195.6 494.0,195.6 495.0,195.6C496.0,195.6 499.1,196.0 500.0,196.2C500.9,196.4 503.4,197.4 504.0,198.0C504.6,198.6 506.2,200.8 506.5,202.0C506.8,203.2 506.9,208.2 507.0,210.0C507.1,211.8 507.1,217.0 507.0,220.0C506.9,223.0 506.6,235.0 506.5,240.0C506.4,245.0 506.0,270.0 506.0,270.0C506.0,270.0 479.8,270.0 479.8,270.0Z" fill="#00a8fa"/>
<ellipse cx="519.5" cy="209.5" rx="5.3" ry="5.8" fill="#00c0ff"/>
<ellipse cx="519.5" cy="209.8" rx="4.2" ry="4.6" fill="#00a8fa"/>
<path d="M366.0,236.0C366.0,236.0 371.9,236.5 373.5,238.0C375.1,239.5 375.0,239.7 375.3,245.0C375.6,250.3 375.5,270.0 375.5,270.0C375.5,270.0 366.0,270.0 366.0,270.0C366.0,270.0 366.0,236.0 366.0,236.0Z" fill="#00c0ff"/>
<path d="M366.0,188.4C366.0,188.4 381.6,187.7 385.0,187.5C388.4,187.3 397.0,186.7 400.0,186.5C403.0,186.3 412.0,186.1 415.0,186.0C418.0,185.9 427.0,185.6 430.0,185.6C433.0,185.6 442.5,185.8 445.0,186.0C447.5,186.2 453.4,187.1 455.0,187.5C456.6,187.9 460.1,189.2 461.0,190.0C461.9,190.8 463.5,193.7 464.0,195.0C464.5,196.3 465.8,201.0 466.0,203.0C466.2,205.0 466.4,208.3 466.5,215.0C466.6,221.7 466.5,270.0 466.5,270.0C466.5,270.0 441.1,270.0 441.1,270.0C441.1,270.0 438.1,257.3 437.4,255.0C436.6,252.7 434.3,249.5 433.6,247.4C432.9,245.3 431.1,235.4 430.0,234.3C428.9,233.2 423.7,236.8 422.4,236.2C421.1,235.6 417.6,230.9 416.8,228.7C416.1,226.4 416.1,215.6 414.9,213.7C413.7,211.8 407.0,210.6 405.0,210.0C403.0,209.4 397.5,208.2 395.0,208.0C392.5,207.8 382.9,207.7 380.0,207.7C377.1,207.7 366.0,207.7 366.0,207.7C366.0,207.7 366.0,188.4 366.0,188.4Z" fill="#0055ff"/>
<ellipse cx="455.2" cy="245.6" rx="1.5" ry="5" fill="#00a8fa"/>
<path d="M488.7,205.0C488.9,203.3 489.1,201.2 490.0,200.0C490.9,198.8 492.5,197.9 494.0,197.5C495.5,197.1 497.5,197.1 499.0,197.5C500.5,197.9 502.1,198.6 503.0,200.0C503.9,201.4 504.4,203.8 504.6,206.0C504.8,208.2 504.3,210.7 504.0,213.0C503.7,215.3 502.9,217.2 502.7,220.0C502.4,222.8 502.6,226.6 502.5,230.0C502.4,233.4 502.4,238.5 501.8,240.4C501.2,242.3 499.9,241.6 499.0,241.5C498.1,241.4 496.9,241.9 496.4,240.0C495.9,238.1 496.1,233.2 496.0,230.0C495.9,226.8 496.3,223.3 495.5,221.0C494.7,218.7 492.1,217.8 491.0,216.0C489.9,214.2 489.1,211.8 488.7,210.0C488.3,208.2 488.5,206.7 488.7,205.0Z" fill="#0055ff"/>
<path d="M385.5,196.5C385.5,195.5 387.1,194.6 388.0,194.0C388.9,193.4 388.9,193.4 390.6,193.2C392.3,192.9 395.4,192.7 398.0,192.5C400.6,192.3 404.0,192.2 406.5,191.9C409.0,191.7 410.8,191.2 413.0,191.0C415.2,190.8 417.5,190.6 419.7,190.6C421.9,190.6 423.8,190.8 426.0,191.0C428.2,191.2 430.4,191.6 432.9,191.9C435.4,192.2 438.4,192.6 441.0,193.0C443.6,193.4 446.5,194.0 448.8,194.6C451.1,195.2 453.2,195.8 455.0,196.5C456.8,197.2 457.8,197.7 459.4,198.5C461.0,199.3 463.5,199.9 464.7,201.2C465.9,202.4 466.0,204.2 466.3,206.0C466.6,207.8 466.5,209.7 466.5,212.0C466.5,214.3 467.7,218.6 466.5,219.7C465.3,220.8 461.8,218.9 459.4,218.4C457.0,217.9 454.2,217.2 452.0,216.5C449.8,215.8 448.0,215.1 446.0,214.4C444.0,213.7 442.2,213.2 440.0,212.5C437.8,211.8 435.2,211.0 432.9,210.4C430.6,209.8 428.2,209.4 426.0,209.0C423.8,208.6 421.6,208.2 419.7,207.8C417.8,207.4 416.6,207.0 414.4,206.5C412.2,206.0 408.9,205.4 406.5,205.0C404.1,204.6 401.8,204.4 400.0,204.0C398.2,203.6 397.9,203.2 395.9,202.5C393.9,201.8 389.7,200.8 388.0,199.8C386.3,198.8 385.5,197.5 385.5,196.5Z" fill="#000ad7"/>
<ellipse cx="421" cy="199.2" rx="5.3" ry="3.3" fill="#00007d"/>
<path d="M433.0,199.0C433.2,197.5 435.3,196.2 437.0,195.5C438.7,194.8 441.0,194.7 443.0,194.8C445.0,194.9 447.3,195.2 449.0,196.0C450.7,196.8 452.5,198.0 453.0,199.5C453.5,201.0 453.0,203.6 452.0,205.0C451.0,206.4 448.8,207.6 447.0,207.8C445.2,208.0 442.8,206.6 441.0,206.0C439.2,205.4 437.3,205.7 436.0,204.5C434.7,203.3 432.8,200.5 433.0,199.0Z" fill="#00007d"/>
<ellipse cx="462.2" cy="206.5" rx="3.8" ry="7" fill="#00007d"/>
</g>
<g fill="none" stroke="#262626" stroke-width="1.3">
<rect x="74.2" y="40.7" width="223.9" height="223.9"/>
<rect x="372.3" y="40.7" width="223.7" height="223.9"/>
</g>
<rect x="305.7" y="40.6" width="15.3" height="223.8" fill="url(#jet)" stroke="#262626" stroke-width="1.1"/>
<rect x="603.9" y="40.6" width="15.3" height="223.8" fill="url(#jet)" stroke="#262626" stroke-width="1.1"/>
<g stroke="#262626" stroke-width="1">
<line x1="74.2" y1="40.7" x2="74.2" y2="43.0"/>
<line x1="74.2" y1="264.6" x2="74.2" y2="262.3"/>
<line x1="111.5" y1="40.7" x2="111.5" y2="43.0"/>
<line x1="111.5" y1="264.6" x2="111.5" y2="262.3"/>
<line x1="148.8" y1="40.7" x2="148.8" y2="43.0"/>
<line x1="148.8" y1="264.6" x2="148.8" y2="262.3"/>
<line x1="186.2" y1="40.7" x2="186.2" y2="43.0"/>
<line x1="186.2" y1="264.6" x2="186.2" y2="262.3"/>
<line x1="223.5" y1="40.7" x2="223.5" y2="43.0"/>
<line x1="223.5" y1="264.6" x2="223.5" y2="262.3"/>
<line x1="260.8" y1="40.7" x2="260.8" y2="43.0"/>
<line x1="260.8" y1="264.6" x2="260.8" y2="262.3"/>
<line x1="298.1" y1="40.7" x2="298.1" y2="43.0"/>
<line x1="298.1" y1="264.6" x2="298.1" y2="262.3"/>
<line x1="74.2" y1="40.7" x2="76.5" y2="40.7"/>
<line x1="298.0" y1="40.7" x2="295.7" y2="40.7"/>
<line x1="74.2" y1="96.7" x2="76.5" y2="96.7"/>
<line x1="298.0" y1="96.7" x2="295.7" y2="96.7"/>
<line x1="74.2" y1="152.6" x2="76.5" y2="152.6"/>
<line x1="298.0" y1="152.6" x2="295.7" y2="152.6"/>
<line x1="74.2" y1="208.6" x2="76.5" y2="208.6"/>
<line x1="298.0" y1="208.6" x2="295.7" y2="208.6"/>
<line x1="74.2" y1="264.6" x2="76.5" y2="264.6"/>
<line x1="298.0" y1="264.6" x2="295.7" y2="264.6"/>
<line x1="372.3" y1="40.7" x2="372.3" y2="43.0"/>
<line x1="372.3" y1="264.6" x2="372.3" y2="262.3"/>
<line x1="409.6" y1="40.7" x2="409.6" y2="43.0"/>
<line x1="409.6" y1="264.6" x2="409.6" y2="262.3"/>
<line x1="446.9" y1="40.7" x2="446.9" y2="43.0"/>
<line x1="446.9" y1="264.6" x2="446.9" y2="262.3"/>
<line x1="484.3" y1="40.7" x2="484.3" y2="43.0"/>
<line x1="484.3" y1="264.6" x2="484.3" y2="262.3"/>
<line x1="521.6" y1="40.7" x2="521.6" y2="43.0"/>
<line x1="521.6" y1="264.6" x2="521.6" y2="262.3"/>
<line x1="558.9" y1="40.7" x2="558.9" y2="43.0"/>
<line x1="558.9" y1="264.6" x2="558.9" y2="262.3"/>
<line x1="596.2" y1="40.7" x2="596.2" y2="43.0"/>
<line x1="596.2" y1="264.6" x2="596.2" y2="262.3"/>
<line x1="372.3" y1="40.7" x2="374.6" y2="40.7"/>
<line x1="596.1" y1="40.7" x2="593.8" y2="40.7"/>
<line x1="372.3" y1="96.7" x2="374.6" y2="96.7"/>
<line x1="596.1" y1="96.7" x2="593.8" y2="96.7"/>
<line x1="372.3" y1="152.6" x2="374.6" y2="152.6"/>
<line x1="596.1" y1="152.6" x2="593.8" y2="152.6"/>
<line x1="372.3" y1="208.6" x2="374.6" y2="208.6"/>
<line x1="596.1" y1="208.6" x2="593.8" y2="208.6"/>
<line x1="372.3" y1="264.6" x2="374.6" y2="264.6"/>
<line x1="596.1" y1="264.6" x2="593.8" y2="264.6"/>
<line x1="321.3" y1="230.0" x2="318.8" y2="230.0"/>
<line x1="321.3" y1="194.1" x2="318.8" y2="194.1"/>
<line x1="321.3" y1="158.1" x2="318.8" y2="158.1"/>
<line x1="321.3" y1="122.2" x2="318.8" y2="122.2"/>
<line x1="321.3" y1="86.2" x2="318.8" y2="86.2"/>
<line x1="321.3" y1="50.3" x2="318.8" y2="50.3"/>
<line x1="619.7" y1="254.2" x2="617.2" y2="254.2"/>
<line x1="619.7" y1="220.4" x2="617.2" y2="220.4"/>
<line x1="619.7" y1="186.6" x2="617.2" y2="186.6"/>
<line x1="619.7" y1="152.8" x2="617.2" y2="152.8"/>
<line x1="619.7" y1="119.0" x2="617.2" y2="119.0"/>
<line x1="619.7" y1="85.2" x2="617.2" y2="85.2"/>
<line x1="619.7" y1="51.4" x2="617.2" y2="51.4"/>
</g>
<g font-size="18">
<text x="68.3" y="51" text-anchor="end">3050</text>
<text x="68.3" y="104.1" text-anchor="end">3000</text>
<text x="68.3" y="159.2" text-anchor="end">2950</text>
<text x="68.3" y="214" text-anchor="end">2900</text>
<text x="68.3" y="269.2" text-anchor="end">2850</text>
<text x="74" y="283.6" text-anchor="middle">200</text>
<text x="146.3" y="283.6" text-anchor="middle">300</text>
<text x="220.7" y="283.6" text-anchor="middle">400</text>
<text x="293" y="283.6" text-anchor="middle">500</text>
<text x="375.5" y="283.6" text-anchor="middle">200</text>
<text x="446.9" y="283.6" text-anchor="middle">300</text>
<text x="521.8" y="283.6" text-anchor="middle">400</text>
<text x="594.2" y="283.6" text-anchor="middle">500</text>
<text x="327.5" y="56.7">10</text>
<text x="327.5" y="92.8">8</text>
<text x="327.5" y="128.7">6</text>
<text x="327.5" y="165.1">4</text>
<text x="327.5" y="200.9">2</text>
<text x="327.5" y="236.4">0</text>
<text x="625.5" y="58.2">6</text>
<text x="625.5" y="92.6">4</text>
<text x="625.5" y="125.7">2</text>
<text x="625.5" y="159">0</text>
<text x="625" y="192.8">-2</text>
<text x="625" y="226.1">-4</text>
<text x="625" y="260.6">-6</text>
</g>
<g>
<text x="151.3" y="305"><tspan font-size="16">ω</tspan><tspan font-size="11" dy="3.5">1</tspan><tspan font-size="18" dy="-3.5" dx="1.5"> (cm</tspan><tspan font-size="11" dy="-7.5">-1</tspan><tspan font-size="18" dy="7.5" dx="0.9">)</tspan></text>
<text x="449" y="305"><tspan font-size="16">ω</tspan><tspan font-size="11" dy="3.5">1</tspan><tspan font-size="18" dy="-3.5" dx="1.5"> (cm</tspan><tspan font-size="11" dy="-7.5">-1</tspan><tspan font-size="18" dy="7.5" dx="0.9">)</tspan></text>
<text transform="translate(16.3 187.8) rotate(-90)"><tspan font-size="15.5">ω</tspan><tspan font-size="11" dy="3.5">2</tspan><tspan font-size="17.3" dy="-3.5"> (cm</tspan><tspan font-size="11" dy="-7.5">-1</tspan><tspan font-size="17.3" dy="7.5">)</tspan></text>
</g>
<g font-weight="bold">
<text x="137.4" y="16.8" font-size="18">Re[S</text>
<text x="178.6" y="9.6" font-size="12" font-weight="normal">(3)</text>
<text x="193.2" y="19.8" font-size="11" letter-spacing="0.9">DMSO</text>
<text x="228.3" y="16.8" font-size="18">]</text>
<text x="441" y="16.8" font-size="18">Im[S</text>
<text x="479.6" y="9.6" font-size="12" font-weight="normal">(3)</text>
<text x="495" y="19.8" font-size="11" letter-spacing="0.9">DMSO</text>
<text x="530" y="16.8" font-size="18">]</text>
</g>
<g font-weight="bold" font-size="18">
<text x="86.9" y="60.3" style="fill:#fff">a</text>
<text x="382.2" y="64.4">b</text>
</g>
<g font-weight="bold" font-size="18">
<text x="139.4" y="119.7" style="fill:#fff">a1</text>
<text x="155.5" y="141.9" style="fill:#fff">a2</text>
<text x="193.6" y="142.3" style="fill:#fff">a3</text>
<text x="225" y="129" style="fill:#fff">a4</text>
<text x="140.4" y="209.8">s1</text>
<text x="160.3" y="234">s2</text>
<text x="197.3" y="235.4">s3</text>
<text x="220" y="220.5">s4</text>
</g>
</svg>
</body></html>
